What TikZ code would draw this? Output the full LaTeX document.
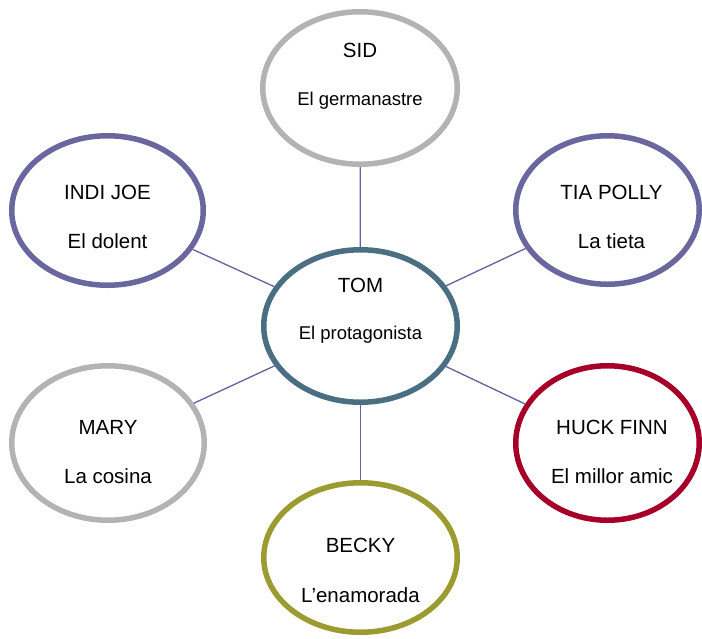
\documentclass[tikz,border=0pt]{standalone}
\usepackage{fontspec}
\setmainfont{Liberation Sans}
\usetikzlibrary{shapes.geometric}
\definecolor{cgray}{HTML}{B3B3B3}
\definecolor{cpurple}{HTML}{6A669E}
\definecolor{cslate}{HTML}{4A6E82}
\definecolor{ccrimson}{HTML}{A6002A}
\definecolor{colive}{HTML}{9C9B32}
\definecolor{cline}{HTML}{6461A0}
\tikzset{
  oval/.style={ellipse, draw, line width=5.5pt, fill=white, inner sep=0pt},
  big/.style={anchor=base, inner sep=0pt, font=\fontsize{20.5}{24}\selectfont},
  small/.style={anchor=base, inner sep=0pt, font=\fontsize{18.5}{22}\selectfont},
  link/.style={draw=cline, line width=1.3pt}
}
\begin{document}
\begin{tikzpicture}[x=1pt,y=-1pt]
\useasboundingbox (0,0) rectangle (702,638);
\node[oval, draw=cgray,  minimum width=194.5pt, minimum height=152.5pt] (sid)  at (360,88) {};
\node[oval, draw=cslate, minimum width=193.5pt, minimum height=152.5pt] (tom)  at (360.5,326) {};
\node[oval, draw=cpurple,minimum width=191.5pt, minimum height=149.5pt] (indi) at (107.5,210.5) {};
\node[oval, draw=cpurple,minimum width=183.5pt, minimum height=148.5pt] (tia)  at (607.5,210) {};
\node[oval, draw=cgray,  minimum width=192.5pt, minimum height=154.5pt] (mary) at (108,443) {};
\node[oval, draw=ccrimson,minimum width=183.5pt, minimum height=154.5pt] (huck) at (607.5,443) {};
\node[oval, draw=colive, minimum width=193.5pt, minimum height=149.5pt] (becky) at (360.5,557.5) {};
\draw[link] (tom) -- (sid);
\draw[link] (tom) -- (indi);
\draw[link] (tom) -- (tia);
\draw[link] (tom) -- (mary);
\draw[link] (tom) -- (huck);
\draw[link] (tom) -- (becky);
\node[big]   (sidA)   at (360,57)   {SID};
\node[small] (sidB)   at (360,105)  {El germanastre};
\node[big]   (tomA)   at (360.5,292) {TOM};
\node[small] (tomB)   at (360.5,339) {El protagonista};
\node[big]   (indiA)  at (107.5,199) {INDI JOE};
\node[big]   (indiB)  at (107.5,248) {El dolent};
\node[big]   (tiaA)   at (611.5,199) {TIA POLLY};
\node[big]   (tiaB)   at (611.5,248) {La tieta};
\node[big]   (maryA)  at (108,434)  {MARY};
\node[big]   (maryB)  at (108,483)  {La cosina};
\node[big]   (huckA)  at (612,434)  {HUCK FINN};
\node[big]   (huckB)  at (612,483)  {El millor amic};
\node[big]   (beckyA) at (360.5,552) {BECKY};
\node[big]   (beckyB) at (360.5,602) {L’enamorada};
\end{tikzpicture}
\end{document}
